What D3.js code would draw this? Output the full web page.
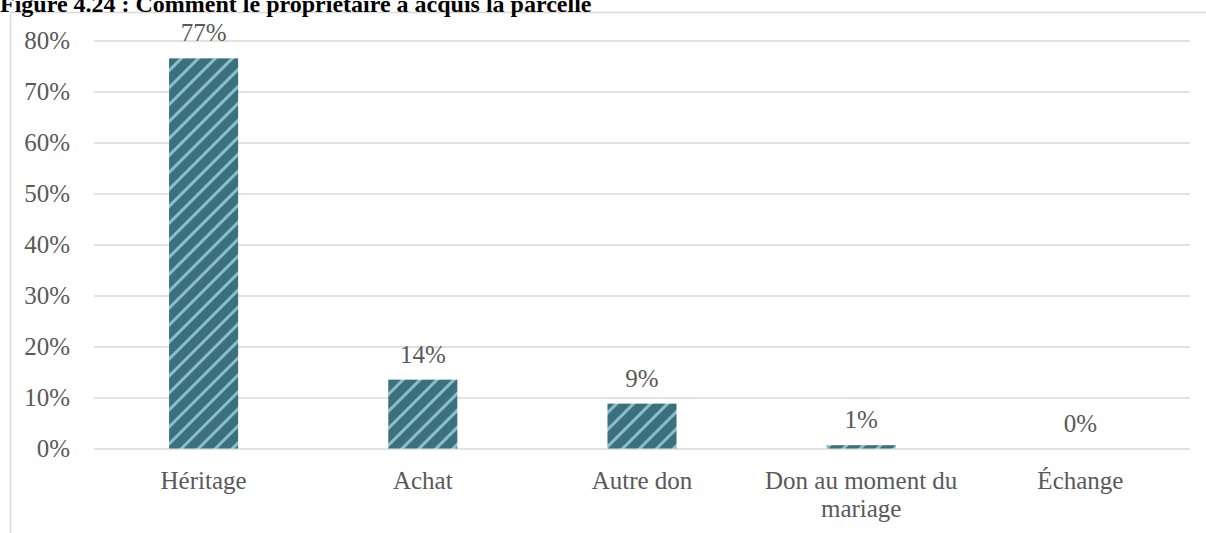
<!DOCTYPE html>
<html>
<head>
<meta charset="utf-8">
<script src="https://cdn.jsdelivr.net/npm/d3@7"></script>
<style>
  body { margin: 0; background: #fff; }
  svg { display: block; }
</style>
</head>
<body>
<script>
// data
const categories = ['Héritage', 'Achat', 'Autre don', 'Don au moment du mariage', 'Échange'];
const values = [0.765, 0.135, 0.088, 0.0065, 0];
const valueLabels = ['77%', '14%', '9%', '1%', '0%'];
const yTicks = [0, 0.1, 0.2, 0.3, 0.4, 0.5, 0.6, 0.7, 0.8];
const title = 'Figure 4.24 : Comment le propriétaire a acquis la parcelle';

const width = 1206,
    height = 533;

const plotLeft = 94, plotRight = 1190, plotTop = 40.5, plotBottom = 448.5;
const font = '"Liberation Serif", serif';
const textColor = '#595959';

let svg = d3.select('body').append('svg')
    .attr('width', width)
    .attr('height', height);

// stripe pattern for the bars
let defs = svg.append('defs');
let pat = defs.append('pattern')
    .attr('id', 'stripes')
    .attr('patternUnits', 'userSpaceOnUse')
    .attr('width', 12)
    .attr('height', 12)
    .attr('patternTransform', 'rotate(45)');
pat.append('rect')
    .attr('width', 12).attr('height', 12)
    .attr('fill', '#3b717e');
pat.append('rect')
    .attr('x', 0).attr('width', 3)
    .attr('height', 12)
    .attr('fill', '#8dbccb');

// outer chart frame (runs off the picture)
svg.append('path')
    .attr('d', `M10.5,${height + 2}V12.5H${width + 2}`)
    .attr('fill', 'none')
    .attr('stroke', '#d9d9d9')
    .attr('stroke-width', 1.5);

// title (top is cut in the original too)
svg.append('text')
    .attr('x', 0)
    .attr('y', 12)
    .attr('font-family', font)
    .attr('font-weight', 'bold')
    .attr('font-size', 24)
    .attr('fill', '#000')
    .text(title);

let x = d3.scaleBand()
    .domain(categories)
    .range([plotLeft, plotRight])
    .paddingInner(0.685)
    .paddingOuter(0.3425);

let y = d3.scaleLinear()
    .domain([0, 0.8])
    .range([plotBottom, plotTop]);

// gridlines + y axis labels
let yAxis = d3.axisLeft(y)
    .tickValues(yTicks)
    .tickFormat(d3.format('.0%'))
    .tickSize(-(plotRight - plotLeft))
    .tickPadding(24);

let gy = svg.append('g')
    .attr('transform', `translate(${plotLeft},0)`)
    .call(yAxis);
gy.select('.domain').remove();
gy.selectAll('.tick line')
    .attr('stroke', '#d9d9d9')
    .attr('stroke-width', 1.5);
gy.selectAll('.tick text')
    .attr('font-family', font)
    .attr('font-size', 25)
    .attr('fill', textColor);

// bars
svg.selectAll('.bar')
    .data(values)
    .enter().append('rect')
    .attr('class', 'bar')
    .attr('x', (d, i) => x(categories[i]))
    .attr('width', x.bandwidth())
    .attr('y', d => y(d))
    .attr('height', d => y(0) - y(d))
    .attr('fill', 'url(#stripes)');

// value labels
svg.selectAll('.vlabel')
    .data(values)
    .enter().append('text')
    .attr('class', 'vlabel')
    .attr('x', (d, i) => x(categories[i]) + x.bandwidth() / 2)
    .attr('y', d => y(d) - 17)
    .attr('text-anchor', 'middle')
    .attr('font-family', font)
    .attr('font-size', 25)
    .attr('fill', textColor)
    .text((d, i) => valueLabels[i]);

// category labels with word wrap
let xAxis = d3.axisBottom(x).tickSize(0).tickPadding(0);
let gx = svg.append('g')
    .attr('transform', `translate(0,${plotBottom})`)
    .call(xAxis);
gx.select('.domain').remove();
gx.selectAll('.tick text')
    .attr('font-family', font)
    .attr('font-size', 25)
    .attr('fill', textColor)
    .attr('dy', null)
    .attr('y', 0)
    .each(function(d) {
        let t = d3.select(this);
        let words = d.split(' ');
        t.text(null);
        let line = [];
        let lineNo = 0;
        let tspan = t.append('tspan').attr('x', 0).attr('y', 40);
        words.forEach(w => {
            line.push(w);
            tspan.text(line.join(' '));
            if (tspan.node().getComputedTextLength() > x.step() && line.length > 1) {
                line.pop();
                tspan.text(line.join(' '));
                line = [w];
                lineNo++;
                tspan = t.append('tspan').attr('x', 0).attr('y', 40 + lineNo * 28.5).text(w);
            }
        });
    });
</script>
</body>
</html>
